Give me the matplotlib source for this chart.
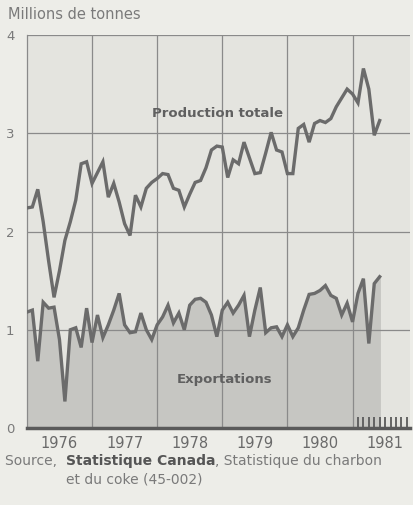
import matplotlib.pyplot as plt
import numpy as np
from matplotlib.ticker import FixedLocator

plt.rcParams['font.family'] = ['DejaVu Sans']

# Monthly values, Jan 1976 .. Jun 1981 (millions de tonnes)
production = [
    2.24, 2.25, 2.43, 2.10, 1.70, 1.33, 1.60, 1.91, 2.10, 2.32, 2.69, 2.71,
    2.49, 2.60, 2.71, 2.35, 2.49, 2.30, 2.08, 1.96, 2.37, 2.25, 2.44, 2.50,
    2.54, 2.59, 2.58, 2.44, 2.42, 2.25, 2.38, 2.50, 2.52, 2.65, 2.83, 2.87,
    2.86, 2.55, 2.73, 2.69, 2.91, 2.75, 2.59, 2.60, 2.80, 3.01, 2.83, 2.81,
    2.59, 2.59, 3.05, 3.09, 2.91, 3.10, 3.13, 3.11, 3.15, 3.27, 3.36, 3.45,
    3.40, 3.31, 3.66, 3.45, 2.98, 3.13,
]
exportations = [
    1.18, 1.20, 0.68, 1.28, 1.22, 1.23, 0.90, 0.27, 1.00, 1.02, 0.82, 1.22,
    0.87, 1.15, 0.92, 1.05, 1.20, 1.37, 1.05, 0.97, 0.98, 1.17, 1.00, 0.90,
    1.05, 1.13, 1.25, 1.07, 1.17, 1.00, 1.25, 1.31, 1.32, 1.28, 1.15, 0.93,
    1.20, 1.28, 1.17, 1.25, 1.35, 0.93, 1.20, 1.43, 0.97, 1.02, 1.03, 0.93,
    1.05, 0.93, 1.02, 1.20, 1.36, 1.37, 1.40, 1.45, 1.35, 1.32, 1.15, 1.27,
    1.08, 1.37, 1.52, 0.86, 1.47, 1.54,
]
years = [1976, 1977, 1978, 1979, 1980, 1981]
yticks = [0, 1, 2, 3, 4]

t = 1976 + np.arange(len(production)) / 12.0

fig = plt.figure(figsize=(4.14, 5.05), dpi=100, facecolor='#edede8')
ax = fig.add_axes([0.065, 0.1525, 0.925, 0.778])
ax.set_facecolor('#e4e4df')

line_col = '#6b6b6b'
ax.fill_between(t, exportations, 0, color='#c6c6c2', zorder=1)
ax.plot(t, exportations, color=line_col, lw=2.4, zorder=3, solid_joinstyle='miter')
ax.plot(t, production, color=line_col, lw=2.4, zorder=3, solid_joinstyle='miter')

ax.set_xlim(1976, 1981.88)
ax.set_ylim(0, 4)

# grid
for y in yticks[1:]:
    ax.axhline(y, color='#8a8a8a', lw=0.9, zorder=2)
for yr in years[1:]:
    ax.axvline(yr, color='#8a8a8a', lw=0.9, zorder=2)

for s in ['top', 'right']:
    ax.spines[s].set_visible(False)
ax.spines['left'].set_color('#8a8a8a')
ax.spines['left'].set_linewidth(0.9)
ax.spines['bottom'].set_color('#5a5a5a')
ax.spines['bottom'].set_linewidth(2.5)

ax.set_yticks(yticks)
ax.set_yticklabels([str(v) for v in yticks])
ax.tick_params(axis='y', length=0, pad=9, labelsize=9.5, labelcolor='#7a7a7a')

ax.set_xticks([y + 0.5 for y in years])
ax.set_xticklabels([str(y) for y in years])
ax.tick_params(axis='x', which='major', length=0, pad=6, labelsize=10.5, labelcolor='#6a6a6a')
ax.xaxis.remove_overlapping_locs = False
ax.xaxis.set_minor_locator(FixedLocator([1981 + k / 12.0 for k in range(1, 11)]))
ax.tick_params(axis='x', which='minor', direction='in', length=8, width=1.3, color='#5a5a5a')

ax.text(1978.92, 3.2, 'Production totale', ha='center', va='center',
        fontsize=9.5, fontweight='bold', color='#606060', zorder=4)
ax.text(1979.03, 0.49, 'Exportations', ha='center', va='center',
        fontsize=9.5, fontweight='bold', color='#606060', zorder=4)

fig.text(0.02, 0.972, 'Millions de tonnes', ha='left', va='center',
         fontsize=10.5, color='#7a7a7a')

src_size = 10
t1 = fig.text(0.012, 0.079, 'Source,  ', ha='left', va='baseline',
              fontsize=src_size, color='#7a7a7a')
t2 = fig.text(0, 0, 'Statistique Canada', ha='left', va='baseline', fontsize=src_size,
              color='#555555', fontweight='bold', transform=fig.transFigure)
fig.canvas.draw()
r = fig.canvas.get_renderer()
bb1 = t1.get_window_extent(r).transformed(fig.transFigure.inverted())
t2.set_position((bb1.x1, 0.079))
bb2 = t2.get_window_extent(r).transformed(fig.transFigure.inverted())
fig.text(bb2.x1, 0.079, ', Statistique du charbon', ha='left', va='baseline',
         fontsize=src_size, color='#7a7a7a')
fig.text(bb2.x0, 0.043, 'et du coke (45-002)', ha='left', va='baseline',
         fontsize=src_size, color='#7a7a7a')

fig.savefig('out.png', dpi=100, facecolor=fig.get_facecolor())
